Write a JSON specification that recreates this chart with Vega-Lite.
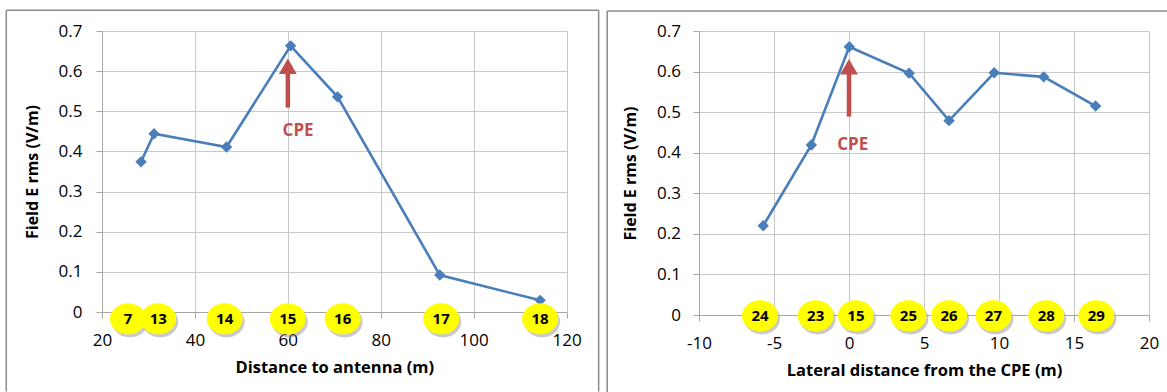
{
  "$schema": "https://vega.github.io/schema/vega-lite/v6.json",
  "background": "white",
  "padding": {"left": 5, "top": 9, "right": 0, "bottom": 0},
  "spacing": 132,
  "bounds": "flush",
  "config": {
    "view": {"stroke": null},
    "font": "Open Sans",
    "axis": {
      "labelFont": "Open Sans", "labelFontSize": 17, "labelColor": "#000000", "labelFlush": false,
      "titleFont": "Open Sans", "titleFontSize": 16, "titleFontWeight": "bold", "titleColor": "#000000",
      "gridColor": "#C8C8C8", "domainColor": "#A6A6A6", "tickColor": "#A6A6A6", "tickSize": 6
    }
  },
  "datasets": {
    "dist": [
      {"point": "7", "distance": 28.4, "erms": 0.374},
      {"point": "13", "distance": 31.2, "erms": 0.444},
      {"point": "14", "distance": 46.8, "erms": 0.411},
      {"point": "15", "distance": 60.6, "erms": 0.663},
      {"point": "16", "distance": 70.7, "erms": 0.536},
      {"point": "17", "distance": 92.7, "erms": 0.092},
      {"point": "18", "distance": 114.3, "erms": 0.029}
    ],
    "distLabels": [
      {"point": "7", "distance": 25.6},
      {"point": "13", "distance": 32.1},
      {"point": "14", "distance": 46.4},
      {"point": "15", "distance": 60.0},
      {"point": "16", "distance": 71.8},
      {"point": "17", "distance": 93.0},
      {"point": "18", "distance": 114.3}
    ],
    "lat": [
      {"point": "24", "lateral": -5.72, "erms": 0.220},
      {"point": "23", "lateral": -2.51, "erms": 0.419},
      {"point": "15", "lateral": 0.02, "erms": 0.661},
      {"point": "25", "lateral": 4.01, "erms": 0.596},
      {"point": "26", "lateral": 6.67, "erms": 0.479},
      {"point": "27", "lateral": 9.68, "erms": 0.597},
      {"point": "28", "lateral": 12.98, "erms": 0.587},
      {"point": "29", "lateral": 16.44, "erms": 0.515}
    ],
    "latLabels": [
      {"point": "24", "lateral": -5.93},
      {"point": "23", "lateral": -2.22},
      {"point": "15", "lateral": 0.46},
      {"point": "25", "lateral": 3.96},
      {"point": "26", "lateral": 6.67},
      {"point": "27", "lateral": 9.63},
      {"point": "28", "lateral": 13.15},
      {"point": "29", "lateral": 16.49}
    ],
    "one": [{}]
  },
  "hconcat": [
    {
      "width": 464.6,
      "height": 281,
      "layer": [
        {
          "data": {"name": "dist"},
          "mark": {"type": "line", "color": "#4A7EBB", "strokeWidth": 2.6, "point": {"shape": "diamond", "size": 130, "filled": true, "color": "#4A7EBB", "opacity": 1}},
          "encoding": {
            "x": {"field": "distance", "type": "quantitative", "scale": {"domain": [20, 120], "nice": false, "zero": false},
                  "axis": {"values": [20, 40, 60, 80, 100, 120], "title": "Distance to antenna (m)", "titleFontSize": 16.5, "labelPadding": 14, "titlePadding": 11}},
            "y": {"field": "erms", "type": "quantitative", "scale": {"domain": [0, 0.7], "nice": false},
                  "axis": {"values": [0, 0.1, 0.2, 0.3, 0.4, 0.5, 0.6, 0.7], "format": ".1~f", "title": "Field E rms (V/m)", "labelPadding": 14, "titlePadding": 18}}
          }
        },
        {
          "data": {"name": "one"},
          "mark": {"type": "rule", "clip": false, "color": "#8C8C8C", "strokeWidth": 1.5},
          "encoding": {"x": {"datum": -0.6}, "y": {"datum": -0.198}, "y2": {"datum": 0.7516}}
        },
        {
          "data": {"name": "one"},
          "mark": {"type": "rule", "clip": false, "color": "#8C8C8C", "strokeWidth": 1.5},
          "encoding": {"x": {"datum": 126.9}, "y": {"datum": -0.198}, "y2": {"datum": 0.7516}}
        },
        {
          "data": {"name": "one"},
          "mark": {"type": "rule", "clip": false, "color": "#8C8C8C", "strokeWidth": 1.5},
          "encoding": {"x": {"datum": -0.6}, "x2": {"datum": 126.9}, "y": {"datum": 0.7516}}
        },
        {
          "data": {"name": "distLabels"},
          "mark": {"type": "point", "shape": "M -1 0 A 1 0.87 0 1 0 1 0 A 1 0.87 0 1 0 -1 0 Z", "size": 1300, "filled": true, "color": "#8A8A8A", "opacity": 0.45, "xOffset": 2, "yOffset": 3, "clip": false},
          "encoding": {"x": {"field": "distance", "type": "quantitative"}, "y": {"datum": -0.017}}
        },
        {
          "data": {"name": "distLabels"},
          "mark": {"type": "point", "shape": "M -1 0 A 1 0.87 0 1 0 1 0 A 1 0.87 0 1 0 -1 0 Z", "size": 1300, "filled": true, "color": "#FFFF00", "opacity": 1, "clip": false},
          "encoding": {"x": {"field": "distance", "type": "quantitative"}, "y": {"datum": -0.017}}
        },
        {
          "data": {"name": "distLabels"},
          "mark": {"type": "text", "font": "Open Sans", "fontSize": 15, "fontWeight": "bold", "color": "#000000", "align": "center", "baseline": "middle", "clip": false},
          "encoding": {"x": {"field": "distance", "type": "quantitative"}, "y": {"datum": -0.017}, "text": {"field": "point"}}
        },
        {
          "data": {"name": "one"},
          "mark": {"type": "rule", "color": "#C0504D", "strokeWidth": 4.5},
          "encoding": {"x": {"datum": 60}, "y": {"datum": 0.509}, "y2": {"datum": 0.605}}
        },
        {
          "data": {"name": "one"},
          "mark": {"type": "point", "shape": "triangle-up", "size": 320, "filled": true, "color": "#C0504D", "opacity": 1},
          "encoding": {"x": {"datum": 60}, "y": {"datum": 0.612}}
        },
        {
          "data": {"name": "one"},
          "mark": {"type": "text", "text": "CPE", "font": "Open Sans", "fontSize": 17, "fontWeight": "bold", "color": "#C0504D", "align": "center", "baseline": "middle"},
          "encoding": {"x": {"datum": 62.2}, "y": {"datum": 0.451}}
        }
      ]
    },
    {
      "width": 450,
      "height": 284,
      "layer": [
        {
          "data": {"name": "lat"},
          "mark": {"type": "line", "color": "#4A7EBB", "strokeWidth": 2.6, "point": {"shape": "diamond", "size": 130, "filled": true, "color": "#4A7EBB", "opacity": 1}},
          "encoding": {
            "x": {"field": "lateral", "type": "quantitative", "scale": {"domain": [-10, 20], "nice": false, "zero": false},
                  "axis": {"values": [-10, -5, 0, 5, 10, 15, 20], "labelExpr": "datum.value + ''", "title": "Lateral distance from the CPE (m)", "titleFontSize": 16.5, "labelPadding": 14, "titlePadding": 11}},
            "y": {"field": "erms", "type": "quantitative", "scale": {"domain": [0, 0.7], "nice": false},
                  "axis": {"values": [0, 0.1, 0.2, 0.3, 0.4, 0.5, 0.6, 0.7], "format": ".1~f", "title": "Field E rms (V/m)", "labelPadding": 12.5, "titlePadding": 18}}
          }
        },
        {
          "data": {"name": "one"},
          "mark": {"type": "rule", "clip": false, "color": "#8C8C8C", "strokeWidth": 1.5},
          "encoding": {"x": {"datum": -16.12}, "y": {"datum": -0.19}, "y2": {"datum": 0.7493}}
        },
        {
          "data": {"name": "one"},
          "mark": {"type": "rule", "clip": false, "color": "#8C8C8C", "strokeWidth": 1.5},
          "encoding": {"x": {"datum": -16.12}, "x2": {"datum": 21.2}, "y": {"datum": 0.7493}}
        },
        {
          "data": {"name": "latLabels"},
          "mark": {"type": "point", "shape": "M -1 0 A 1 0.87 0 1 0 1 0 A 1 0.87 0 1 0 -1 0 Z", "size": 1300, "filled": true, "color": "#8A8A8A", "opacity": 0.45, "xOffset": 2, "yOffset": 3, "clip": false},
          "encoding": {"x": {"field": "lateral", "type": "quantitative"}, "y": {"datum": -0.002}}
        },
        {
          "data": {"name": "latLabels"},
          "mark": {"type": "point", "shape": "M -1 0 A 1 0.87 0 1 0 1 0 A 1 0.87 0 1 0 -1 0 Z", "size": 1300, "filled": true, "color": "#FFFF00", "opacity": 1, "clip": false},
          "encoding": {"x": {"field": "lateral", "type": "quantitative"}, "y": {"datum": -0.002}}
        },
        {
          "data": {"name": "latLabels"},
          "mark": {"type": "text", "font": "Open Sans", "fontSize": 15, "fontWeight": "bold", "color": "#000000", "align": "center", "baseline": "middle", "clip": false},
          "encoding": {"x": {"field": "lateral", "type": "quantitative"}, "y": {"datum": -0.002}, "text": {"field": "point"}}
        },
        {
          "data": {"name": "one"},
          "mark": {"type": "rule", "color": "#C0504D", "strokeWidth": 4.5},
          "encoding": {"x": {"datum": 0}, "y": {"datum": 0.489}, "y2": {"datum": 0.605}}
        },
        {
          "data": {"name": "one"},
          "mark": {"type": "point", "shape": "triangle-up", "size": 320, "filled": true, "color": "#C0504D", "opacity": 1},
          "encoding": {"x": {"datum": 0}, "y": {"datum": 0.612}}
        },
        {
          "data": {"name": "one"},
          "mark": {"type": "text", "text": "CPE", "font": "Open Sans", "fontSize": 17, "fontWeight": "bold", "color": "#C0504D", "align": "center", "baseline": "middle"},
          "encoding": {"x": {"datum": 0.25}, "y": {"datum": 0.419}}
        }
      ]
    }
  ]
}
